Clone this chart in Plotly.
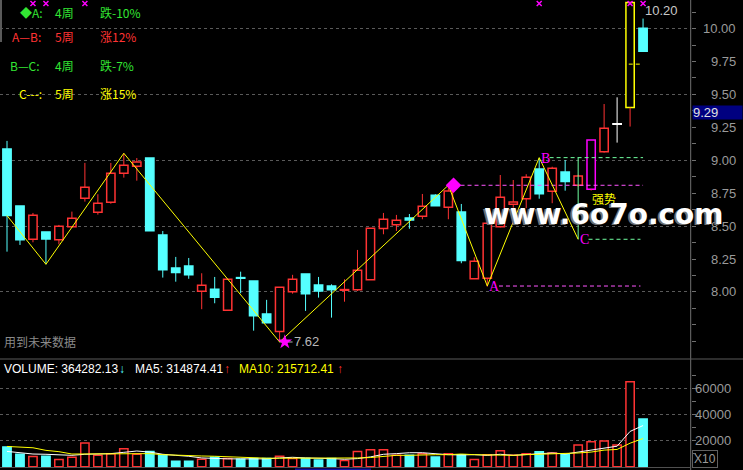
import plotly.graph_objects as go

W, H = 743, 470

# ---------------- data ----------------
opens = [9.086, 8.653, 8.400, 8.456, 8.397, 8.496, 8.711, 8.605, 8.681, 8.901,
         8.954, 9.017, 8.433, 8.182, 8.197, 8.005, 8.020, 7.861, 8.107, 8.083,
         7.833, 7.699, 8.002, 8.137, 8.053, 8.045, 8.013, 8.017, 8.093, 8.481,
         8.511, 8.562, 8.575, 8.734, 8.643, 8.607, 8.101, 8.104, 8.496, 8.666,
         8.708, 8.934, 8.765, 8.911, 8.811, 8.780, 9.065, 9.273, 9.400, 10.002]
highs = [9.147, 8.653, 8.600, 8.456, 8.509, 8.610, 8.980, 8.742, 8.980, 9.053,
         9.017, 9.017, 8.463, 8.266, 8.258, 8.142, 8.114, 8.096, 8.154, 8.083,
         7.940, 8.036, 8.130, 8.137, 8.114, 8.058, 8.096, 8.319, 8.484, 8.600,
         8.585, 8.592, 8.744, 8.742, 8.800, 8.668, 8.263, 8.522, 8.888, 8.850,
         8.894, 9.015, 8.951, 9.002, 8.890, 9.154, 9.427, 9.478, 10.200, 10.076]
lows = [8.306, 8.357, 8.377, 8.210, 8.362, 8.490, 8.686, 8.587, 8.670, 8.868,
        8.845, 8.465, 8.109, 8.078, 8.100, 7.869, 7.914, 7.861, 7.990, 7.706,
        7.766, 7.620, 7.987, 7.856, 7.957, 7.805, 7.926, 8.007, 8.093, 8.438,
        8.463, 8.480, 8.552, 8.655, 8.552, 8.218, 8.101, 8.040, 8.490, 8.640,
        8.636, 8.708, 8.674, 8.769, 8.800, 8.770, 9.058, 9.134, 9.256, 9.828]
closes = [8.580, 8.397, 8.582, 8.402, 8.499, 8.560, 8.795, 8.674, 8.901, 8.962,
          8.987, 8.465, 8.169, 8.147, 8.131, 8.051, 7.960, 8.096, 8.104, 7.820,
          7.766, 8.036, 8.096, 7.987, 8.008, 8.017, 8.017, 8.165, 8.484, 8.552,
          8.544, 8.547, 8.651, 8.655, 8.767, 8.238, 8.233, 8.522, 8.719, 8.683,
          8.871, 8.746, 8.939, 8.838, 8.880, 9.154, 9.243, 9.273, 10.198, 9.828]

volumes = [15000, 9500, 7800, 8000, 5500, 7200, 18200, 8700, 10000, 13700,
           9500, 11700, 9000, 4200, 4200, 5700, 7200, 6200, 5700, 6200,
           6200, 8000, 6200, 6200, 5200, 6200, 4700, 11700, 13000, 13000,
           8700, 8700, 10000, 7500, 10000, 9200, 5500, 9200, 12200, 8700,
           10000, 11500, 10500, 9200, 16700, 19000, 19700, 16700, 65000, 36500]
vol_ma5 = [11700, 10700, 9700, 9500, 9000, 8700, 9500, 9500, 10000, 11000,
           12000, 11200, 9500, 8700, 8000, 6700, 6200, 6000, 6000, 6000,
           6000, 6700, 7200, 6700, 6700, 6200, 5700, 6200, 7500, 9500,
           10000, 10700, 10700, 9700, 9200, 9000, 9200, 8700, 9500, 8700,
           9200, 9700, 10500, 9700, 11200, 12500, 14200, 15700, 27000, 31487]
vol_ma10 = [15500, 15000, 14500, 12500, 11500, 9700, 9700, 9700, 9700, 10000,
            10000, 10000, 9200, 8700, 8700, 8200, 8000, 7500, 7200, 7000,
            6500, 6500, 6500, 6500, 6500, 6500, 6200, 6700, 7000, 8000,
            8700, 8700, 9200, 9200, 9200, 9700, 9200, 9000, 8700, 8700,
            9200, 9500, 9700, 9700, 10500, 11200, 12700, 13200, 18000, 21571]

strong_candle_idx = [45]      # magenta "强势" candle
limit_candle_idx = [48]       # yellow candle
zz_idx = [0, 3, 9, 21, 34, 37, 41, 44]
zz_val = [8.580, 8.210, 9.053, 7.620, 8.810, 8.045, 9.020, 8.400]
signal_idx = [2, 3, 6, 41, 48, 49]
signal_level = 10.19
avg_line_level = 9.73
last_price_tag = "9.29"
price_ticks = [8.00, 8.25, 8.50, 8.75, 9.00, 9.25, 9.50, 9.75, 10.00]
vol_ticks = [20000, 40000, 60000]
legend_tags = ["◆A:", "A—B:", "B—C:", "C---:"]
legend_weeks = ["4周", "5周", "4周", "5周"]
legend_pct = ["跌-10%", "涨12%", "跌-7%", "涨15%"]

# ---------------- style ----------------
RED = "#ff3333"
CYAN = "#55ffff"
YEL = "#ffff00"
MAG = "#ff00ff"
PINK = "#ff55ff"
GRN = "#33e633"
LGRN = "#70ffa0"
GRAY = "#9a9a9a"
AXC = "#707070"

n = len(opens)
xs = list(range(n))
BW = 0.64


def px(x):
    return x / W


def py(y):
    return 1 - y / H


fig = go.Figure()

# candle colours
edge, fill, wickc = [], [], []
for i in range(n):
    o, c = opens[i], closes[i]
    if i in strong_candle_idx:
        edge.append(MAG); fill.append("#000000"); wickc.append(RED)
    elif i in limit_candle_idx:
        edge.append(YEL); fill.append("#000000"); wickc.append(RED)
    elif abs(c - o) < 1e-9:
        edge.append("#ffffff"); fill.append("#ffffff"); wickc.append("#ffffff")
    elif c > o:
        edge.append(RED); fill.append("#000000"); wickc.append(RED)
    else:
        edge.append(CYAN); fill.append(CYAN); wickc.append(CYAN)

# wicks
wick_groups = {}
for i in range(n):
    top = max(opens[i], closes[i])
    bot = min(opens[i], closes[i])
    g = wick_groups.setdefault(wickc[i], ([], []))
    if highs[i] > top:
        g[0].extend([i, i, None]); g[1].extend([top, highs[i], None])
    if lows[i] < bot:
        g[0].extend([i, i, None]); g[1].extend([lows[i], bot, None])
for col, (wx, wy) in wick_groups.items():
    fig.add_trace(go.Scatter(x=wx, y=wy, mode="lines", line=dict(color=col, width=1),
                             hoverinfo="skip", showlegend=False, xaxis="x", yaxis="y"))

# C marker vertical line (from B level to C level)
fig.add_trace(go.Scatter(x=[zz_idx[7], zz_idx[7]], y=[zz_val[6], zz_val[7]], mode="lines",
                         line=dict(color=LGRN, width=1), showlegend=False, hoverinfo="skip"))

# bodies
bases = [min(opens[i], closes[i]) for i in range(n)]
heights = [max(abs(closes[i] - opens[i]), 0.005) for i in range(n)]
fig.add_trace(go.Bar(x=xs, y=heights, base=bases, width=BW,
                     marker=dict(color=fill, line=dict(color=edge, width=1.5)),
                     showlegend=False, hoverinfo="skip", xaxis="x", yaxis="y"))

# dashed level lines
last = n - 1
fig.add_trace(go.Scatter(x=[zz_idx[4] + 0.4, last], y=[zz_val[4], zz_val[4]], mode="lines",
                         line=dict(color=PINK, width=1, dash="4px,3px"), showlegend=False, hoverinfo="skip"))
fig.add_trace(go.Scatter(x=[zz_idx[5] + 0.9, last - 0.2], y=[zz_val[5], zz_val[5]], mode="lines",
                         line=dict(color=PINK, width=1, dash="4px,3px"), showlegend=False, hoverinfo="skip"))
fig.add_trace(go.Scatter(x=[zz_idx[6] + 0.8, last], y=[zz_val[6], zz_val[6]], mode="lines",
                         line=dict(color=LGRN, width=1, dash="4px,3px"), showlegend=False, hoverinfo="skip"))
fig.add_trace(go.Scatter(x=[zz_idx[7] + 0.8, last - 0.2], y=[zz_val[7], zz_val[7]], mode="lines",
                         line=dict(color=LGRN, width=1, dash="4px,3px"), showlegend=False, hoverinfo="skip"))
fig.add_trace(go.Scatter(x=[limit_candle_idx[0] - 0.1, limit_candle_idx[0] + 0.95],
                         y=[avg_line_level, avg_line_level], mode="lines",
                         line=dict(color=YEL, width=1, dash="4px,3px"), showlegend=False, hoverinfo="skip"))

# zigzag
fig.add_trace(go.Scatter(x=zz_idx, y=zz_val, mode="lines", line=dict(color=YEL, width=1),
                         showlegend=False, hoverinfo="skip"))

# markers: diamond, star, signals
fig.add_trace(go.Scatter(x=[zz_idx[4] + 0.4], y=[zz_val[4]], mode="markers",
                         marker=dict(symbol="diamond", size=12, color=MAG), showlegend=False, hoverinfo="skip"))
fig.add_trace(go.Scatter(x=[zz_idx[3], zz_idx[3] + 1.0], y=[zz_val[3], zz_val[3]], mode="lines",
                         line=dict(color="#b0b0b0", width=1), showlegend=False, hoverinfo="skip"))
fig.add_trace(go.Scatter(x=[zz_idx[3] + 0.4], y=[zz_val[3]], mode="markers",
                         marker=dict(symbol="star", size=11, color=MAG), showlegend=False, hoverinfo="skip"))
fig.add_trace(go.Scatter(x=signal_idx, y=[signal_level] * len(signal_idx), mode="markers",
                         marker=dict(symbol="x-thin", size=5, line=dict(color=MAG, width=1.5)),
                         showlegend=False, hoverinfo="skip", cliponaxis=False))

# volume
vcol = [CYAN if closes[i] < opens[i] else "#000000" for i in range(n)]
vedge = [CYAN if closes[i] < opens[i] else RED for i in range(n)]
fig.add_trace(go.Bar(x=xs, y=volumes, width=BW, marker=dict(color=vcol, line=dict(color=vedge, width=1.5)),
                     showlegend=False, hoverinfo="skip", xaxis="x2", yaxis="y2"))
fig.add_trace(go.Scatter(x=xs, y=vol_ma5, mode="lines", line=dict(color="#ffffff", width=1),
                         showlegend=False, hoverinfo="skip", xaxis="x2", yaxis="y2"))
fig.add_trace(go.Scatter(x=xs, y=vol_ma10, mode="lines", line=dict(color=YEL, width=1),
                         showlegend=False, hoverinfo="skip", xaxis="x2", yaxis="y2"))

# ---------------- layout ----------------
XR = [-0.539, 52.67]
XD = [0, 690.7 / W]
P_TOP, P_BOT = 10.217, 7.506
V_TOP, V_BOT = 81656, -2525

fig.update_layout(
    width=W, height=H, margin=dict(l=0, r=0, t=0, b=0),
    paper_bgcolor="#000000", plot_bgcolor="#000000",
    barmode="overlay", showlegend=False,
    xaxis=dict(domain=XD, range=XR, showgrid=False, zeroline=False, showticklabels=False, ticks=""),
    xaxis2=dict(domain=XD, range=XR, matches="x", anchor="y2", showgrid=False, zeroline=False,
                showticklabels=False, ticks=""),
    yaxis=dict(domain=[(H - 357) / H, 1], range=[P_BOT, P_TOP], side="right", anchor="x",
               showgrid=True, gridcolor="#5a5a5a", griddash="dot", gridwidth=1,
               tickmode="linear", tick0=8.0, dtick=0.5, ticks="outside", ticklen=4, tickcolor=AXC,
               showticklabels=False, zeroline=False,
               minor=dict(tickmode="linear", tick0=8.0, dtick=0.125, ticks="outside", ticklen=4,
                          tickcolor=AXC, showgrid=False)),
    yaxis2=dict(domain=[0, (H - 360) / H], range=[V_BOT, V_TOP], side="right", anchor="x2",
                showgrid=True, gridcolor="#5a5a5a", griddash="dot", gridwidth=1,
                tickmode="array", tickvals=vol_ticks, ticks="outside", ticklen=4, tickcolor=AXC,
                showticklabels=False, zeroline=False,
                minor=dict(tickmode="array", tickvals=[10000, 30000, 50000, 70000], ticks="outside",
                           ticklen=4, tickcolor=AXC, showgrid=False)),
)

shapes = [
    dict(type="line", xref="paper", yref="paper", x0=px(690.7), x1=px(690.7), y0=0, y1=1,
         line=dict(color=AXC, width=1)),
    dict(type="line", xref="paper", yref="paper", x0=0, x1=1, y0=py(359), y1=py(359),
         line=dict(color="#5a5a5a", width=1)),
    dict(type="line", xref="paper", yref="paper", x0=px(1), x1=px(1), y0=py(0), y1=py(42),
         line=dict(color="#5a5a5a", width=2)),
    dict(type="line", xref="paper", yref="paper", x0=0, x1=px(690.7), y0=py(467.5), y1=py(467.5),
         line=dict(color="#505050", width=1)),
    dict(type="line", xref="paper", yref="paper", x0=px(295), x1=px(371), y0=py(469.3), y1=py(469.3),
         line=dict(color="#1010a0", width=1.5)),
]
fig.update_layout(shapes=shapes)

ann = []
LAT = "Liberation Sans, Arial, sans-serif"
CJK = "Noto Sans CJK SC, sans-serif"
for v in price_ticks:
    ann.append(dict(x=px(738), y=v, xref="paper", yref="y", text=f"{v:.2f}", showarrow=False,
                    xanchor="right", yanchor="middle", font=dict(family=LAT, size=13, color=GRAY)))
for v in vol_ticks:
    ann.append(dict(x=px(733), y=v, xref="paper", yref="y2", text=f"{v}", showarrow=False,
                    xanchor="right", yanchor="middle", font=dict(family=LAT, size=13, color=GRAY)))

# legend rows
row_y = [13, 37, 65, 93]
row_x = [18, 10, 8, 17]
row_col = [GRN, RED, GRN, YEL]
for k in range(4):
    for txt, xx in ((legend_tags[k], row_x[k]), (legend_weeks[k], 53), (legend_pct[k], 98)):
        ann.append(dict(x=px(xx), y=py(row_y[k]), xref="paper", yref="paper", text=txt, showarrow=False,
                        xanchor="left", yanchor="middle", font=dict(family=CJK, size=12, color=row_col[k])))

# zigzag labels
for lab, j in (("A", 5), ("B", 6), ("C", 7)):
    ann.append(dict(x=zz_idx[j], y=zz_val[j], xref="x", yref="y", text=lab, showarrow=False,
                    xanchor="left", yanchor="middle", xshift=0, yshift=-0.5,
                    font=dict(family="Liberation Serif, serif", size=14, color=MAG)))

ann += [
    dict(x=zz_idx[3], y=zz_val[3], xref="x", yref="y", text="7.62", showarrow=False, xanchor="left",
         yanchor="middle", xshift=12, font=dict(family=LAT, size=13, color="#b8b8b8")),
    dict(x=limit_candle_idx[0], y=highs[limit_candle_idx[0]], xref="x", yref="y", text="10.20",
         showarrow=False, xanchor="left", yanchor="top", xshift=13, yshift=1,
         font=dict(family=LAT, size=13, color="#c8c8c8")),
    dict(x=px(590), y=py(198.5), xref="paper", yref="paper", text="强势",
         showarrow=False, xanchor="left", yanchor="middle",
         font=dict(family=CJK, size=12, color=YEL)),
    dict(x=px(2), y=py(341), xref="paper", yref="paper", text="用到未来数据", showarrow=False,
         xanchor="left", yanchor="middle", font=dict(family=CJK, size=12, color="#8a8a8a")),
    dict(x=px(692), y=py(113), xref="paper", yref="paper", text=last_price_tag, showarrow=False,
         xanchor="left", yanchor="middle", width=49, height=13, align="left", bgcolor="#000080",
         borderpad=0, font=dict(family=LAT, size=13, color="#e0e0e0")),
    dict(x=px(692), y=py(459), xref="paper", yref="paper", text="X10", showarrow=False,
         xanchor="left", yanchor="middle", bordercolor="#606060", borderwidth=1, borderpad=1,
         font=dict(family=LAT, size=12, color=GRAY)),
    dict(x=px(604), y=py(214), xref="paper", yref="paper", text="<b>www.6o7o.com</b>", showarrow=False,
         xanchor="center", yanchor="middle", xshift=-2, yshift=-1,
         font=dict(family="DejaVu Sans, sans-serif", size=28, color="#707070")),
    dict(x=px(604), y=py(214), xref="paper", yref="paper", text="<b>www.6o7o.com</b>", showarrow=False,
         xanchor="center", yanchor="middle",
         font=dict(family="DejaVu Sans, sans-serif", size=28, color="#ffffff")),
]

# volume title
vt = [("VOLUME: 364282.13", 2, "#ffffff"), ("↓", 117, CYAN), ("MA5: 314874.41", 133, "#ffffff"),
      ("↑", 222, RED), ("MA10: 215712.41", 237, YEL), ("↑", 335, RED)]
for txt, xx, col in vt:
    ann.append(dict(x=px(xx), y=py(369), xref="paper", yref="paper", text=txt, showarrow=False,
                    xanchor="left", yanchor="middle", font=dict(family=LAT, size=12, color=col)))

fig.update_layout(annotations=ann)
fig.write_html("out.html", config={"displayModeBar": False},
               post_script="document.body.style.margin='0';document.body.style.overflow='hidden';")
